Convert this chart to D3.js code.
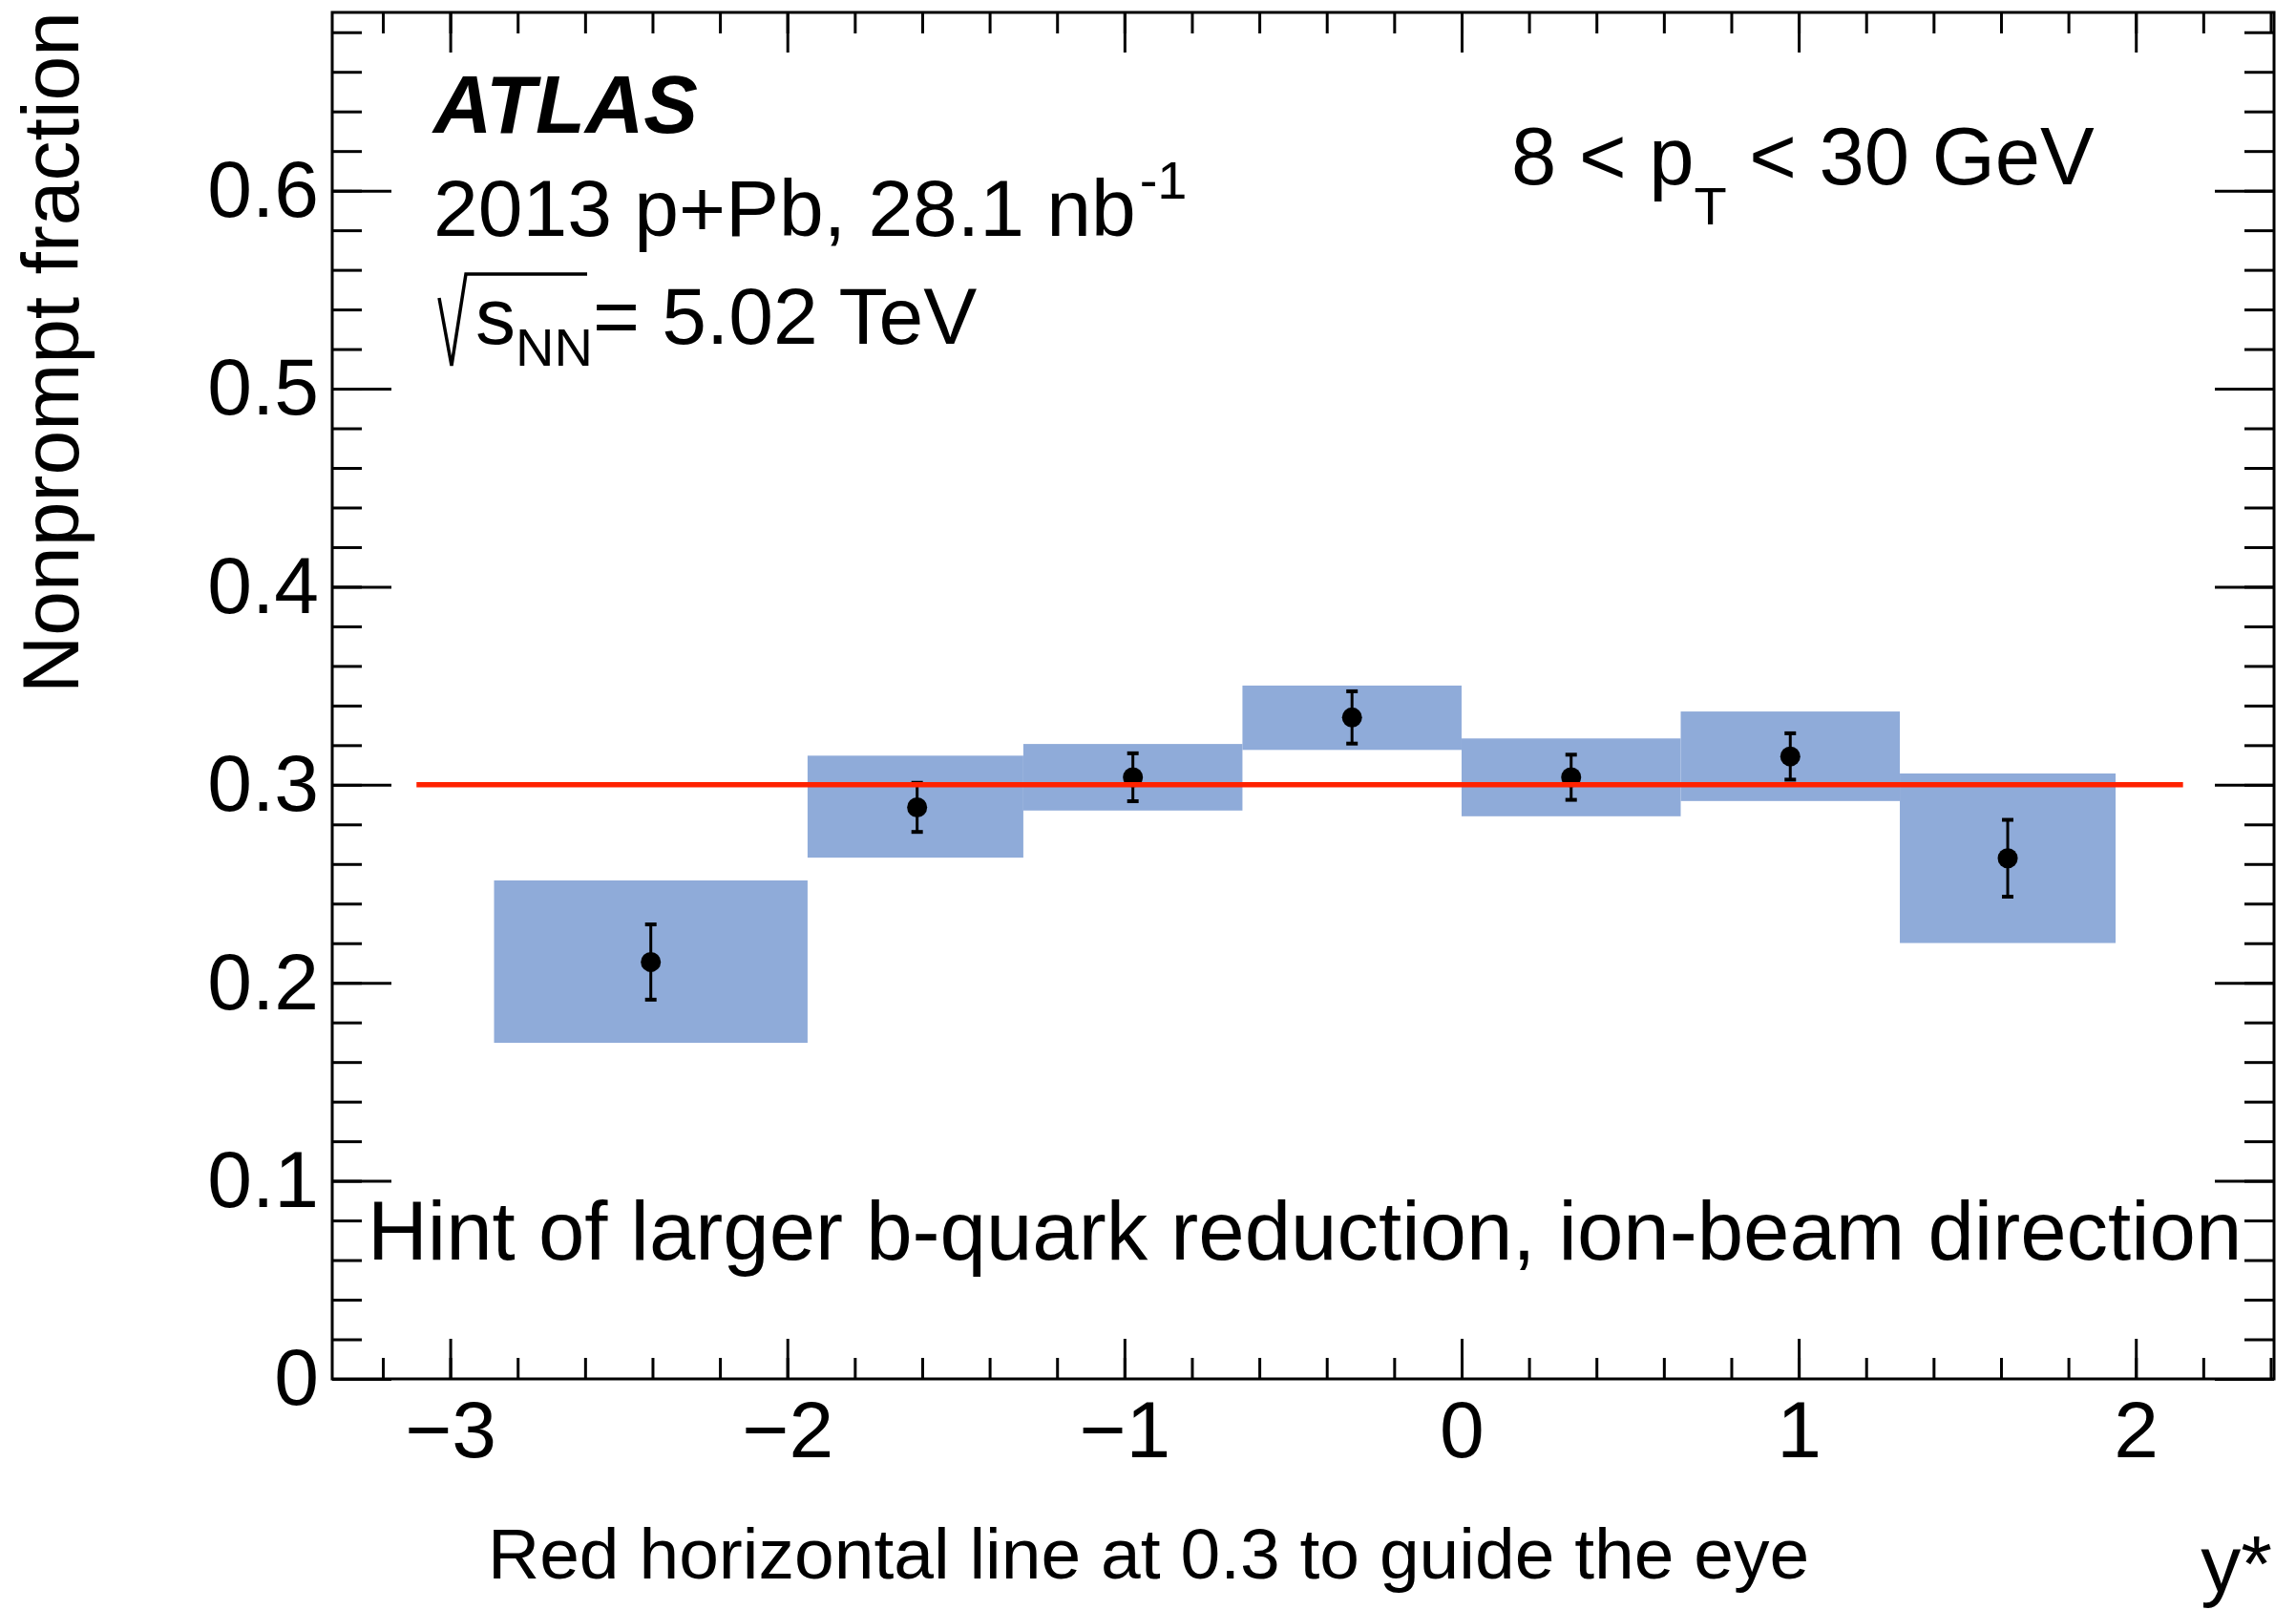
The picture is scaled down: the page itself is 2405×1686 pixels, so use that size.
<!DOCTYPE html>
<html>
<head>
<meta charset="utf-8">
<script src="https://cdn.jsdelivr.net/npm/d3@7"></script>
<style>
  body { margin: 0; background: #fff; }
  text { font-family: "Liberation Sans", Arial, Helvetica, sans-serif; fill: #000; white-space: pre; }
</style>
</head>
<body>
<svg id="chart" width="2405" height="1686"></svg>
<script>
// values
var binEdges = [-2.87, -1.94, -1.30, -0.65, 0, 0.65, 1.30, 1.94];
var yStar    = [-2.405, -1.615, -0.975, -0.325, 0.325, 0.975, 1.62];
var fraction = [0.2105, 0.2886, 0.3038, 0.3340, 0.3038, 0.3143, 0.2629];
var statErr  = [0.0190, 0.0124, 0.0121, 0.0132, 0.0114, 0.0117, 0.0194];
var sysLow   = [0.1697, 0.2632, 0.2870, 0.3176, 0.2841, 0.2918, 0.2201];
var sysHigh  = [0.2517, 0.3147, 0.3206, 0.3501, 0.3234, 0.3370, 0.3057];

var guideLevel = 0.3, guideFrom = -3.1, guideTo = 2.14;

var xTicks = [-3, -2, -1, 0, 1, 2];
var xTickLabels = ["\u22123", "\u22122", "\u22121", "0", "1", "2"];
var yTicks = [0, 0.1, 0.2, 0.3, 0.4, 0.5, 0.6];
var yTickLabels = ["0", "0.1", "0.2", "0.3", "0.4", "0.5", "0.6"];

var svg = d3.select("#chart");
// frame edges (pixels)
var fLeft = 348, fRight = 2382, fTop = 13, fBottom = 1444;

var x = d3.scaleLinear().domain([-3.35, 2.41]).range([fLeft, fRight]);
var y = d3.scaleLinear().domain([0, 0.69]).range([fBottom, fTop]);

// minor tick positions
var xMinor = d3.range(-16, 13).map(function(i) { return i * 0.2; })
  .filter(function(v) { return v > -3.35 && v < 2.41; });
var yMinor = d3.range(0, 35).map(function(i) { return i * 0.02; });

// systematic boxes
var boxes = yStar.map(function(c, i) {
  return { x0: binEdges[i], x1: binEdges[i + 1], lo: sysLow[i], hi: sysHigh[i] };
});
svg.append("g").selectAll("rect").data(boxes).enter().append("rect")
  .attr("x", function(d) { return x(d.x0); })
  .attr("width", function(d) { return x(d.x1) - x(d.x0); })
  .attr("y", function(d) { return y(d.hi); })
  .attr("height", function(d) { return y(d.lo) - y(d.hi); })
  .attr("fill", "#8fabd9");

// points with stat errors
var pts = yStar.map(function(c, i) { return { x: c, v: fraction[i], e: statErr[i] }; });
var gp = svg.append("g");
gp.selectAll("line.err").data(pts).enter().append("line")
  .attr("x1", function(d) { return x(d.x); })
  .attr("x2", function(d) { return x(d.x); })
  .attr("y1", function(d) { return y(d.v + d.e); })
  .attr("y2", function(d) { return y(d.v - d.e); })
  .attr("stroke", "#000").attr("stroke-width", 3);
[1, -1].forEach(function(s) {
  gp.selectAll("line.cap" + s).data(pts).enter().append("line")
    .attr("x1", function(d) { return x(d.x) - 6; })
    .attr("x2", function(d) { return x(d.x) + 6; })
    .attr("y1", function(d) { return y(d.v + s * d.e); })
    .attr("y2", function(d) { return y(d.v + s * d.e); })
    .attr("stroke", "#000").attr("stroke-width", 4);
});
gp.selectAll("circle").data(pts).enter().append("circle")
  .attr("cx", function(d) { return x(d.x); })
  .attr("cy", function(d) { return y(d.v); })
  .attr("r", 10.5)
  .attr("fill", "#000");

// red guide line
svg.append("line")
  .attr("x1", x(guideFrom)).attr("x2", x(guideTo))
  .attr("y1", y(guideLevel)).attr("y2", y(guideLevel))
  .attr("stroke", "#ff2200").attr("stroke-width", 5.5);

// axes, ROOT style ticks on all four sides, pointing inwards
function styleAxis(g) {
  g.select(".domain").remove();
  g.selectAll(".tick line").attr("stroke", "#000").attr("stroke-width", 3);
  g.selectAll("text").attr("font-size", 84).attr("fill", "#000")
    .attr("font-family", "'Liberation Sans', Arial, Helvetica, sans-serif");
}

svg.append("g").attr("transform", "translate(0," + fBottom + ")")
  .call(d3.axisBottom(x).tickValues(xTicks).tickSize(-42).tickPadding(22)
    .tickFormat(function(d, i) { return xTickLabels[i]; }))
  .call(styleAxis);
svg.append("g").attr("transform", "translate(0," + fBottom + ")")
  .call(d3.axisBottom(x).tickValues(xMinor).tickSize(-22).tickFormat(""))
  .call(styleAxis);
svg.append("g").attr("transform", "translate(0," + fTop + ")")
  .call(d3.axisTop(x).tickValues(xTicks).tickSize(-42).tickFormat(""))
  .call(styleAxis);
svg.append("g").attr("transform", "translate(0," + fTop + ")")
  .call(d3.axisTop(x).tickValues(xMinor).tickSize(-22).tickFormat(""))
  .call(styleAxis);

svg.append("g").attr("transform", "translate(" + fLeft + ",0)")
  .call(d3.axisLeft(y).tickValues(yTicks).tickSize(-62).tickPadding(14)
    .tickFormat(function(d, i) { return yTickLabels[i]; }))
  .call(styleAxis);
svg.append("g").attr("transform", "translate(" + fLeft + ",0)")
  .call(d3.axisLeft(y).tickValues(yMinor).tickSize(-31).tickFormat(""))
  .call(styleAxis);
svg.append("g").attr("transform", "translate(" + fRight + ",0)")
  .call(d3.axisRight(y).tickValues(yTicks).tickSize(-62).tickFormat(""))
  .call(styleAxis);
svg.append("g").attr("transform", "translate(" + fRight + ",0)")
  .call(d3.axisRight(y).tickValues(yMinor).tickSize(-31).tickFormat(""))
  .call(styleAxis);

// frame
svg.append("rect")
  .attr("x", fLeft).attr("y", fTop)
  .attr("width", fRight - fLeft).attr("height", fBottom - fTop)
  .attr("fill", "none").attr("stroke", "#000").attr("stroke-width", 3);

// axis titles
svg.append("text")
  .attr("transform", "translate(82,12) rotate(-90)")
  .attr("text-anchor", "end").attr("font-size", 84)
  .text("Nonprompt fraction");
svg.append("text")
  .attr("x", 2380).attr("y", 1667).attr("text-anchor", "end").attr("font-size", 84)
  .text("y*");
svg.append("text")
  .attr("x", 511).attr("y", 1653).attr("font-size", 75)
  .text("Red horizontal line at 0.3 to guide the eye");

// labels inside the frame
svg.append("text")
  .attr("x", 454).attr("y", 139).attr("font-size", 85)
  .attr("font-weight", "bold").attr("font-style", "italic")
  .text("ATLAS");

var lumi = svg.append("text").attr("x", 454).attr("y", 247).attr("font-size", 84);
lumi.append("tspan").text("2013 p+Pb, 28.1 nb");
lumi.append("tspan").attr("dx", 4).attr("dy", -39).attr("font-size", 56).text("-1");

svg.append("path")
  .attr("d", "M460,312 L473,383 L488,287 L615,287")
  .attr("fill", "none").attr("stroke", "#000").attr("stroke-width", 3.5);
var sqrtS = svg.append("text").attr("x", 498).attr("y", 360).attr("font-size", 84);
sqrtS.append("tspan").text("s");
sqrtS.append("tspan").attr("dy", 23).attr("font-size", 56).text("NN");
sqrtS.append("tspan").attr("dy", -23).text("= 5.02 TeV");

var ptText = svg.append("text").attr("x", 1583).attr("y", 193).attr("font-size", 85);
ptText.append("tspan").text("8 < p");
ptText.append("tspan").attr("dy", 42).attr("font-size", 56).text("T");
ptText.append("tspan").attr("dy", -42).text(" < 30 GeV");

svg.append("text")
  .attr("x", 385).attr("y", 1319).attr("font-size", 87)
  .text("Hint of larger b-quark reduction, ion-beam direction");
</script>
</body>
</html>
